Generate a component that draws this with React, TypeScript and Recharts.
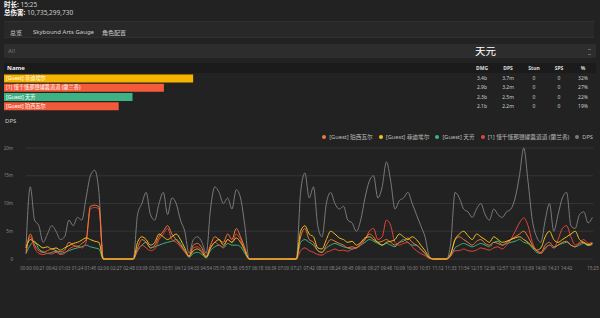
import React from 'react';
import { LineChart, Line, XAxis, YAxis, CartesianGrid, Legend, BarChart, Bar, Cell } from 'recharts';

// one sample every 7 seconds, 00:00 .. 15:24
const SAMPLE_SEC = 7;

// DPS per player, in millions
const percivalDps = [
  1, 4.5, 2.5, 1.5, 1.2, 1.5, 1.8, 1.5, 1.3, 1.6, 3, 2.5, 2.2, 2.8, 3.5, 9.5, 9.7, 9.4,
  0, 0, 0, 0, 0, 0, 0, 0,
  2, 3.5, 3, 2, 2.5, 4, 5, 6, 4.5, 3.5, 2.5, 1.5,
  0.5, 2.5, 2.8, 2, 0.5,
  2.5, 4, 3.5, 3, 4.5, 3.5, 5.5, 4, 2,
  0, 0, 0, 0, 0, 0, 0, 0, 0, 0, 0, 0,
  4, 5.5, 3.5, 3, 1.5, 1.2, 2.5, 3.5, 3.2, 2.8, 2.5, 2, 2.2, 2, 2.8, 3.5, 4.5, 4, 3, 3.2, 3.5, 3, 2.5, 3, 3.2, 3.8, 3, 2.5, 1.8, 1, 0.2,
  0, 0, 0, 0,
  0.8, 3.5, 4, 3.5, 3, 2.5, 3.2, 3.5, 2.8, 2.5, 3, 2.8, 2.5, 3, 3.5, 4, 4.5, 5, 4, 2.5, 1.5, 1.2, 2.5, 3, 2.2, 2.5, 3, 3.2, 2.5, 2.2, 2.8, 3, 2.5, 2.8,
];
const fidielDps = [
  2, 3.5, 3, 2.5, 2, 2.2, 1.8, 2, 1.6, 2, 2.4, 2.8, 3, 3.4, 3.8, 3.5, 3.2, 3,
  0, 0, 0, 0, 0, 0, 0, 0,
  3, 4, 3.5, 2.5, 3, 4.5, 4, 3.5, 4, 4.5, 3.5, 2,
  0.5, 1.5, 1.8, 1.2, 0.3,
  2, 3, 3.5, 2.5, 3.5, 3, 3.8, 3, 1.5,
  0, 0, 0, 0, 0, 0, 0, 0, 0, 0, 0, 0,
  5, 6, 4.5, 4, 2, 1.8, 3.5, 5, 4.5, 3.8, 3.5, 3, 3.2, 2.5, 3, 3.8, 4, 3.5, 3, 2.5, 3, 3.2, 3.5, 4.5, 4, 3.5, 4, 3.5, 2.5, 1.5, 0.3,
  0, 0, 0, 0,
  1, 3.5, 4.5, 5, 4.2, 3.5, 4.5, 4, 3.5, 3, 4, 3.5, 3, 3.2, 3.5, 3.8, 4, 3.5, 3, 2.2, 1.6, 2, 4, 5, 3.5, 3, 3.5, 4, 4.5, 5, 3.5, 3, 2.6, 2.8,
];
const tianfangDps = [
  1, 2.5, 3.2, 1.8, 1.3, 1, 1.2, 1.4, 1, 1.2, 1.5, 1.8, 2, 2.2, 2.5, 2.2, 2, 1.8,
  0, 0, 0, 0, 0, 0, 0, 0,
  1.5, 2.5, 3, 2, 2.2, 2.5, 2.8, 3, 3.2, 3.5, 2.8, 1.5,
  0.3, 1, 1.2, 0.8, 0.2,
  1.5, 2.2, 2.5, 2, 2.8, 2.5, 2.5, 2.2, 1,
  0, 0, 0, 0, 0, 0, 0, 0, 0, 0, 0, 0,
  3, 3.5, 3, 2.5, 1.5, 1.2, 2, 2.5, 2.8, 2.5, 2.2, 2, 1.8, 2, 2.5, 3, 3.5, 3.2, 2.8, 2.5, 2.8, 2.5, 2.2, 3, 3.5, 3, 2.5, 2.5, 1.8, 1, 0.2,
  0, 0, 0, 0,
  0.6, 2, 2.5, 2.8, 2.5, 2.2, 2.5, 2.8, 2.5, 2.2, 3, 3.2, 2.5, 2.8, 3, 3.2, 3.5, 3, 2.8, 2, 1.2, 1, 2, 2.5, 2, 2.5, 2.8, 3, 2.5, 2.2, 2.5, 2.8, 2.4, 2.6,
];
const oneDps = [
  1.5, 4, 2, 1, 0.8, 1, 0.9, 1.2, 0.8, 1, 1.8, 2.2, 2.4, 2, 3, 9, 9.3, 9,
  0, 0, 0, 0, 0, 0, 0, 0,
  1.5, 2.5, 2, 1.5, 1.8, 3.5, 4.5, 5.5, 3.5, 3, 2.2, 1.2,
  0.5, 2, 2.2, 1.5, 0.4,
  2, 3, 2.5, 2.2, 3.5, 3, 4.5, 3.5, 1.5,
  0, 0, 0, 0, 0, 0, 0, 0, 0, 0, 0, 0,
  1.5, 2, 1.5, 1.2, 0.8, 0.7, 1.2, 1.5, 1.8, 1.5, 1.6, 1.4, 1.8, 2, 2.5, 3.5, 5, 5.5, 3.5, 4, 7, 6, 3, 2.5, 2.8, 3, 2.2, 1.5, 1, 0.6, 0.1,
  0, 0, 0, 0,
  0.5, 1.5, 1.5, 1.8, 1.5, 1.4, 1.6, 2, 1.8, 1.6, 2, 2.2, 1.8, 2.5, 3.5, 5, 6.5, 7.4, 6, 3, 1.5, 1, 1.8, 2.5, 2, 3.5, 5.5, 6, 4, 2.5, 3, 3.5, 2.8, 3,
];
const totalDps = [
  2, 13, 7, 6, 3, 4.5, 6, 5, 3.5, 4, 7, 6, 7.5, 7, 11, 15, 16, 12,
  0, 0, 0, 0, 0, 0, 0, 0,
  8, 10, 12, 8, 7, 10, 12, 8, 11, 10, 7, 5,
  1, 3.5, 4, 3, 1,
  9, 13, 12, 10, 11, 9, 12.5, 11, 6,
  0, 0, 0, 0, 0, 0, 0, 0, 0, 0, 0, 0,
  12, 15.5, 11, 13, 6, 4, 10, 12, 10, 9, 9.5, 7, 6.5, 5, 7, 11, 14, 15, 11, 13, 17.5, 14, 9, 10.5, 11, 12, 10, 8, 6, 4, 0.5,
  0, 0, 0, 0,
  3, 12, 11, 9, 8.5, 7.5, 9, 10, 8, 7, 9, 8, 7.5, 8.5, 9, 11, 15, 20, 14, 7, 4, 3, 7, 10, 5, 8, 11, 12, 6, 5.5, 8, 8.5, 6.5, 7.5,
];

const xTicks = [
  0, 21, 42, 63, 84, 105, 126, 147, 168, 189, 210, 231, 252, 273, 294, 315, 336, 357, 378, 399, 420, 441,
  462, 483, 504, 525, 546, 567, 588, 609, 630, 651, 672, 693, 714, 735, 756, 777, 798, 819, 840, 861, 882, 925,
];
const yTicks = [0, 5, 10, 15, 20];

// table
const playerNames = ['[Guest] 菲迪埃尔', '[1] 懂千懂那鹽罐醬道道 (蘭兰香)', '[Guest] 天芳', '[Guest] 珀西瓦尔'];
const playerDmg = [3.43, 2.9, 2.33, 2.08]; // billions
const dmgLabels = ['3.4b', '2.9b', '2.3b', '2.1b'];
const dpsLabels = ['3.7m', '3.2m', '2.5m', '2.2m'];
const stunLabels = ['0', '0', '0', '0'];
const spsLabels = ['0', '0', '0', '0'];
const pctLabels = ['32%', '27%', '22%', '19%'];
const barColors = ['#f5b400', '#f45b3a', '#3db383', '#f0593a'];
const TOTAL_DMG = 10.735;

const series = [
  { key: 'percival', name: '[Guest] 珀西瓦尔', color: '#f07a3a', data: percivalDps },
  { key: 'fidiel', name: '[Guest] 菲迪埃尔', color: '#f4c01e', data: fidielDps },
  { key: 'tianfang', name: '[Guest] 天芳', color: '#3db383', data: tianfangDps },
  { key: 'one', name: '[1] 懂千懂那鹽罐醬道道 (蘭兰香)', color: '#e8443a', data: oneDps },
  { key: 'total', name: 'DPS', color: '#7a7a7a', data: totalDps },
];

const chartData = totalDps.map((_, i) => {
  const row: Record<string, number> = { t: i * SAMPLE_SEC };
  series.forEach((s) => (row[s.key] = s.data[i]));
  return row;
});
const tableData = playerNames.map((name, i) => ({ name, dmg: playerDmg[i] }));

const FONT = '"Noto Sans", "Noto Sans CJK SC", sans-serif';
const fmtTime = (t: number) =>
  `${String(Math.floor(t / 60)).padStart(2, '0')}:${String(t % 60).padStart(2, '0')}`;

const cols = [
  { label: 'DMG', x: 482, values: dmgLabels },
  { label: 'DPS', x: 508, values: dpsLabels },
  { label: 'Stun', x: 534, values: stunLabels },
  { label: 'SPS', x: 559, values: spsLabels },
  { label: '%', x: 583, values: pctLabels },
];

function LegendContent() {
  return (
    <div style={{ display: 'flex', justifyContent: 'flex-end', gap: 6, fontSize: 5.7, color: '#bbb', lineHeight: '12px', fontFamily: FONT }}>
      {series.map((s) => (
        <span key={s.key} style={{ display: 'flex', alignItems: 'center', whiteSpace: 'nowrap' }}>
          <span style={{ width: 4, height: 4, borderRadius: 2, background: s.color, marginRight: 3 }} />
          {s.name}
        </span>
      ))}
    </div>
  );
}

export default function App() {
  const rowTop = 74;
  const rowH = 9.25;
  return (
    <div style={{ position: 'fixed', left: 0, top: 0, width: 600, height: 318, background: '#222', overflow: 'hidden', fontFamily: FONT, color: '#ddd' }}>
      <div style={{ position: 'absolute', left: 4, top: 1, fontSize: 6.5, lineHeight: '8px', color: '#ccc' }}>
        <b style={{ color: '#fff' }}>时长:</b> 15:25
      </div>
      <div style={{ position: 'absolute', left: 4, top: 9, fontSize: 6.5, lineHeight: '8px', color: '#ccc' }}>
        <b style={{ color: '#fff' }}>总伤害:</b> 10,735,299,730
      </div>

      {/* tabs */}
      <div style={{ position: 'absolute', left: 4, top: 21, width: 590, height: 15, background: '#282828', borderTop: '1px solid #303030', borderBottom: '1px solid #303030' }} />
      <div style={{ position: 'absolute', left: 10, top: 28, fontSize: 6, color: '#ccc' }}>总览</div>
      <div style={{ position: 'absolute', left: 33, top: 28, fontSize: 6, color: '#ccc' }}>Skybound Arts Gauge</div>
      <div style={{ position: 'absolute', left: 102, top: 28, fontSize: 6, color: '#ccc' }}>角色配置</div>

      {/* select */}
      <div style={{ position: 'absolute', left: 4, top: 44, width: 592, height: 14, background: '#2d2d2d', borderRadius: 2 }} />
      <div style={{ position: 'absolute', left: 8, top: 47, fontSize: 6, color: '#777' }}>All</div>
      <div style={{ position: 'absolute', left: 475, top: 44, fontSize: 10.5, lineHeight: '14px', color: '#fff' }}>天元</div>
      <div style={{ position: 'absolute', left: 588, top: 49, width: 3, height: 4, borderTop: '1px solid #666', borderBottom: '1px solid #666' }} />

      {/* table header */}
      <div style={{ position: 'absolute', left: 4, top: 63, width: 592, height: 10, background: '#1b1b1b' }} />
      <div style={{ position: 'absolute', left: 7, top: 63, fontSize: 6, lineHeight: '10px', fontWeight: 700, color: '#eee' }}>Name</div>
      {cols.map((c) => (
        <div key={c.label} style={{ position: 'absolute', left: c.x - 15, width: 30, textAlign: 'center', top: 63, fontSize: 5, lineHeight: '10px', fontWeight: 700, color: '#ddd' }}>
          {c.label}
        </div>
      ))}

      <div style={{ position: 'absolute', left: 4, top: rowTop }}>
        <BarChart width={592} height={37} data={tableData} layout="vertical" margin={{ top: 0, right: 0, bottom: 0, left: 0 }} barCategoryGap={0.5}>
          <XAxis type="number" domain={[0, TOTAL_DMG]} hide />
          <YAxis type="category" dataKey="name" hide />
          <Bar dataKey="dmg" isAnimationActive={false}>
            {tableData.map((d, i) => (
              <Cell key={d.name} fill={barColors[i]} />
            ))}
          </Bar>
        </BarChart>
      </div>
      {playerNames.map((n, i) => (
        <React.Fragment key={n}>
          <div style={{ position: 'absolute', left: 6, top: rowTop + i * rowH, fontSize: 5.2, lineHeight: `${rowH}px`, color: '#fff', whiteSpace: 'nowrap' }}>{n}</div>
          {cols.map((c) => (
            <div key={c.label} style={{ position: 'absolute', left: c.x - 15, width: 30, textAlign: 'center', top: rowTop + i * rowH, fontSize: 5, lineHeight: `${rowH}px`, color: '#ccc' }}>
              {c.values[i]}
            </div>
          ))}
        </React.Fragment>
      ))}

      <div style={{ position: 'absolute', left: 5, top: 117, fontSize: 6, color: '#ccc' }}>DPS</div>

      <div style={{ position: 'absolute', left: 0, top: 126 }}>
        <LineChart width={600} height={149} data={chartData} margin={{ top: 5, right: 7, bottom: 4, left: 0 }}>
          <CartesianGrid vertical={false} stroke="#343434" />
          <XAxis
            dataKey="t"
            type="number"
            domain={[0, 925]}
            ticks={xTicks}
            interval={0}
            tickFormatter={fmtTime}
            tickLine={false}
            axisLine={false}
            height={12}
            tickMargin={2}
            tick={{ fontSize: 4.5, fill: '#888' }}
          />
          <YAxis
            domain={[0, 20]}
            ticks={yTicks}
            width={26}
            tickLine={false}
            axisLine={false}
            tickMargin={7}
            tickFormatter={(v: number) => (v === 0 ? '0' : `${v}m`)}
            tick={{ fontSize: 4.5, fill: '#888' }}
          />
          <Legend verticalAlign="top" align="right" height={17} content={<LegendContent />} />
          <Line dataKey="total" name="DPS" stroke="#7a7a7a" strokeWidth={1} dot={false} type="monotone" isAnimationActive={false} />
          <Line dataKey="tianfang" stroke="#3db383" strokeWidth={1} dot={false} type="monotone" isAnimationActive={false} />
          <Line dataKey="one" stroke="#e8443a" strokeWidth={1} dot={false} type="monotone" isAnimationActive={false} />
          <Line dataKey="percival" stroke="#f07a3a" strokeWidth={1} dot={false} type="monotone" isAnimationActive={false} />
          <Line dataKey="fidiel" stroke="#f4c01e" strokeWidth={1} dot={false} type="monotone" isAnimationActive={false} />
        </LineChart>
      </div>
    </div>
  );
}
